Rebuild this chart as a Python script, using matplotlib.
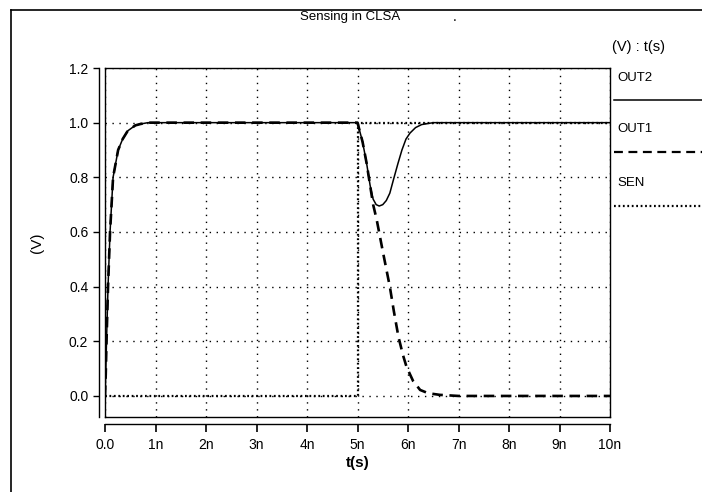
import matplotlib
matplotlib.use("Agg")
import matplotlib.pyplot as plt
from matplotlib.lines import Line2D

plt.rcParams['font.family'] = ['Liberation Sans', 'DejaVu Sans']

# time in ns
t_out = [0.0, 0.015, 0.03, 0.06, 0.1, 0.16, 0.26, 0.35, 0.45, 0.6, 0.7, 0.85, 1.0,
         2.0, 3.0, 4.0, 5.0, 5.1, 5.18, 5.25, 5.31, 5.37, 5.43, 5.5, 5.57, 5.64,
         5.71, 5.8, 5.88, 5.96, 6.04, 6.15, 6.27, 6.5, 7.0, 8.0, 9.0, 10.0]
out2 = [0.0, 0.08, 0.2, 0.4, 0.6, 0.8, 0.9, 0.94, 0.97, 0.99, 0.995, 1.0, 1.0,
        1.0, 1.0, 1.0, 1.0, 0.93, 0.852, 0.77, 0.72, 0.70, 0.695, 0.70, 0.715, 0.742,
        0.79, 0.85, 0.90, 0.94, 0.962, 0.982, 0.993, 1.0, 1.0, 1.0, 1.0, 1.0]

t_out1 = [0.0, 0.015, 0.03, 0.06, 0.1, 0.16, 0.26, 0.35, 0.45, 0.6, 0.7, 0.85, 1.0,
          2.0, 3.0, 4.0, 5.0, 5.1, 5.18, 5.25, 5.31, 5.38, 5.5, 5.64, 5.72, 5.81,
          5.9, 5.97, 6.1, 6.24, 6.4, 6.63, 7.0, 8.0, 9.0, 10.0]
out1 = [0.0, 0.08, 0.2, 0.4, 0.6, 0.8, 0.9, 0.94, 0.97, 0.99, 0.995, 1.0, 1.0,
        1.0, 1.0, 1.0, 1.0, 0.93, 0.852, 0.77, 0.70, 0.645, 0.53, 0.40, 0.31, 0.217,
        0.15, 0.107, 0.055, 0.022, 0.01, 0.004, 0.0, 0.0, 0.0, 0.0]

t_sen = [0.0, 5.0, 5.0, 10.0]
sen = [0.0, 0.0, 1.0, 1.0]

xticks = [0, 1, 2, 3, 4, 5, 6, 7, 8, 9, 10]
xticklabels = ["0.0", "1n", "2n", "3n", "4n", "5n", "6n", "7n", "8n", "9n", "10n"]
yticks = [0.0, 0.2, 0.4, 0.6, 0.8, 1.0, 1.2]
yticklabels = ["0.0", "0.2", "0.4", "0.6", "0.8", "1.0", "1.2"]

W, H = 702, 492
fig = plt.figure(figsize=(W / 100, H / 100), dpi=100)
ax = fig.add_axes([105 / W, 1 - 417 / H, (610 - 105) / W, (417 - 68) / H])

fs = 10
ax.plot(t_out, out2, color='black', lw=1.1, solid_joinstyle='round')
ax.plot(t_out1, out1, color='black', lw=1.9, linestyle=(0, (4, 2.5)))
ax.plot(t_sen, sen, color='black', lw=1.6, linestyle=(0, (0.8, 1.2)))

ax.set_xlim(0, 10)
ax.set_ylim(-0.077, 1.2)
ax.set_xticks(xticks)
ax.set_xticklabels(xticklabels, fontsize=fs, fontweight='bold')
ax.set_yticks(yticks)
ax.set_yticklabels(yticklabels, fontsize=fs, fontweight='bold')
ax.grid(True, color='black', lw=1.0, linestyle=(0, (1, 4)))

for s in ['top', 'right']:
    ax.spines[s].set_linewidth(1.0)
ax.spines['left'].set_position(('outward', 4))
ax.spines['bottom'].set_position(('outward', 5))
ax.spines['left'].set_linewidth(1.0)
ax.spines['bottom'].set_linewidth(1.0)
ax.tick_params(axis='x', direction='out', length=6, width=1.2, pad=4)
ax.tick_params(axis='y', direction='out', length=4, width=1.0, pad=4)

# inner box edges (left and bottom)
ax.plot([0, 0], [0, 1], transform=ax.transAxes, color='black', lw=1.0, clip_on=False)
ax.plot([0, 1], [0, 0], transform=ax.transAxes, color='black', lw=1.0, clip_on=False)

ax.set_xlabel("t(s)", fontsize=fs + 1, fontweight='bold', labelpad=3)
ax.set_ylabel("(V)", fontsize=fs + 1, labelpad=18)

def fx(px):
    return px / W

def fy(py):
    return 1 - py / H

fig.text(fx(350), fy(17), "Sensing in CLSA", fontsize=9.5, ha='center', va='center')
fig.text(fx(455), fy(17), ".", fontsize=fs, ha='center', va='center')
fig.text(fx(612), fy(47), "(V) : t(s)", fontsize=10.5, ha='left', va='center')

legend_items = [("OUT2", 78, 100, '-', 1.1),
                ("OUT1", 129, 152, (0, (4, 2.5)), 1.6),
                ("SEN", 183, 206, (0, (0.8, 1.2)), 1.6)]
for name, ty, ly, ls, lw in legend_items:
    fig.text(fx(617), fy(ty), name, fontsize=9.5, ha='left', va='center')
    fig.add_artist(Line2D([fx(614), fx(702)], [fy(ly), fy(ly)], color='black',
                          lw=lw, linestyle=ls, transform=fig.transFigure))

# outer frame
fig.add_artist(Line2D([fx(11), fx(11)], [fy(10), 0], color='black', lw=1.2,
                      transform=fig.transFigure))
fig.add_artist(Line2D([fx(11), 1], [fy(10), fy(10)], color='black', lw=1.2,
                      transform=fig.transFigure))

fig.savefig("out.png", dpi=100)
